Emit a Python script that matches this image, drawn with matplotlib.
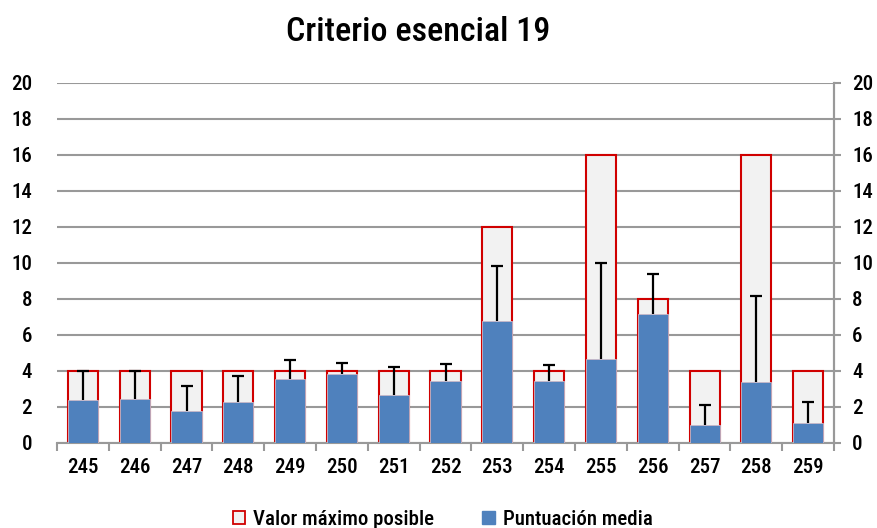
import matplotlib
matplotlib.use("Agg")
import matplotlib.pyplot as plt
from matplotlib import font_manager as fm
import numpy as np
from matplotlib.patches import Patch

# pick a condensed font if available
names = {f.name for f in fm.fontManager.ttflist}
cond = [f for f in fm.fontManager.ttflist
        if str(f.stretch) in ('condensed', 'semi-condensed', 'extra-condensed') or
        (isinstance(f.stretch, int) and f.stretch < 500)]
fam = None
stretch = 'normal'
for cand in ['Roboto Condensed', 'Liberation Sans Narrow', 'Open Sans Condensed']:
    if cand in names:
        fam = cand
        break
if fam is None and cond:
    fam = cond[0].name
    stretch = 'condensed'
if fam is None:
    fam = 'Roboto' if 'Roboto' in names else 'DejaVu Sans'
plt.rcParams['font.family'] = [fam, 'DejaVu Sans']
plt.rcParams['font.stretch'] = stretch

categories = ['245', '246', '247', '248', '249', '250', '251', '252', '253', '254',
              '255', '256', '257', '258', '259']
max_values = [4, 4, 4, 4, 4, 4, 4, 4, 12, 4, 16, 8, 4, 16, 4]
mean_values = [2.38, 2.42, 1.77, 2.27, 3.58, 3.81, 2.64, 3.44, 6.80, 3.45,
               4.66, 7.17, 1.01, 3.39, 1.10]
err_values = [1.62, 1.58, 1.39, 1.43, 1.03, 0.66, 1.60, 0.97, 3.01, 0.89,
              5.32, 2.20, 1.12, 4.77, 1.15]
y_ticks = [0, 2, 4, 6, 8, 10, 12, 14, 16, 18, 20]

fig = plt.figure(figsize=(8.77, 5.28), dpi=100)
ax = fig.add_axes([0.065, 0.161, 0.886, 0.682])

x = np.arange(len(categories))
w = 0.58
grid_c = '#999999'
tfs = 15

ax.bar(x, max_values, width=w, color='#f2f2f2', edgecolor='#d00000', linewidth=1.5, zorder=2)
ax.bar(x, mean_values, width=w, color='#4f81bd', edgecolor='#c8b8c8', linewidth=0.6, zorder=3)
eb = ax.errorbar(x, mean_values, yerr=[np.zeros(len(x)), err_values], fmt='none',
                 ecolor='black', elinewidth=1.6, capsize=4.5, capthick=1.6, zorder=4)
caps = eb[1]
if len(caps) >= 2:
    caps[0].set_visible(False)

ax.set_xlim(-0.5, len(categories) - 0.5)
ax.set_ylim(0, 20)
ax.set_yticks(y_ticks)
ax.set_yticklabels([str(t) for t in y_ticks], fontsize=tfs, fontweight='medium')
ax.yaxis.grid(True, color=grid_c, linewidth=1.5, zorder=0)
ax.set_axisbelow(True)
ax.tick_params(axis='y', length=0, pad=18)

ax.set_xticks(x)
ax.set_xticklabels(categories, fontsize=tfs, fontweight='medium')
ax.tick_params(axis='x', which='major', length=0, pad=11)
ax.set_xticks(np.arange(-0.5, len(categories), 1), minor=True)
ax.tick_params(axis='x', which='minor', length=6, color=grid_c, width=1.5, direction='out')

for s in ['top', 'left']:
    ax.spines[s].set_visible(False)
for s in ['right', 'bottom']:
    ax.spines[s].set_color(grid_c)
    ax.spines[s].set_linewidth(1.5)

ax2 = ax.twinx()
ax2.set_ylim(0, 20)
ax2.set_yticks(y_ticks)
ax2.set_yticklabels([str(t) for t in y_ticks], fontsize=tfs, fontweight='medium')
ax2.tick_params(axis='y', length=5, color=grid_c, width=1.5, pad=8)
for s in ['top', 'left', 'bottom']:
    ax2.spines[s].set_visible(False)
ax2.spines['right'].set_color(grid_c)
ax2.spines['right'].set_linewidth(1.5)

fig.text(0.477, 0.94, 'Criterio esencial 19', fontsize=24.5, fontweight='medium',
         ha='center', va='center')

handles = [Patch(facecolor='#f2f2f2', edgecolor='#d00000', linewidth=1.3),
           Patch(facecolor='#4f81bd', edgecolor='#4f81bd')]
leg = fig.legend(handles, ['Valor máximo posible', 'Puntuación media'], loc='center',
                 bbox_to_anchor=(0.505, 0.016), ncol=2, frameon=False,
                 prop={'size': 15, 'weight': 'medium'},
                 handlelength=0.6, handleheight=0.6, handletextpad=0.4, columnspacing=2.3)

fig.savefig('out.png', dpi=100)
